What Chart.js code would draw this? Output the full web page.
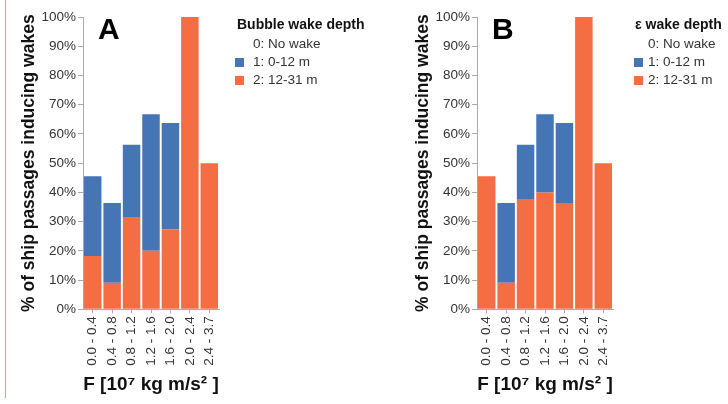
<!DOCTYPE html>
<html>
<head>
<meta charset="utf-8">
<title>Ship wakes</title>
<script src="https://cdn.jsdelivr.net/npm/chart.js@4.4.1/dist/chart.umd.min.js"></script>
<style>
  body { margin: 0; background: #fff; font-family: "Liberation Sans", Arial, sans-serif; }
  #page { position: relative; width: 728px; height: 404px; overflow: hidden; }
  .panel { position: absolute; top: 0; width: 334px; height: 404px; }
  .panel canvas { position: absolute; left: 0; top: 0; }
  .letter { position: absolute; left: 98px; top: 14px; font-size: 30px; font-weight: bold; line-height: 30px; color: #000; }
  .leg-title { position: absolute; font-size: 14px; font-weight: bold; color: #111; height: 16px; line-height: 16px; white-space: nowrap; }
  .leg-item { position: absolute; font-size: 13.5px; color: #333; height: 16px; line-height: 16px; white-space: nowrap; }
  .leg-box { position: absolute; width: 9px; height: 9px; }
  #redline { position: absolute; left: 5px; top: 0; width: 1px; height: 398px; background: #e39393; }
</style>
</head>
<body>
<div id="page">
  <div id="redline"></div>
  <div class="panel" style="left:0px">
    <canvas id="chartA" width="334" height="404"></canvas>
    <div class="letter">A</div>
  </div>
  <div class="panel" style="left:394px">
    <canvas id="chartB" width="334" height="404"></canvas>
    <div class="letter">B</div>
  </div>
</div>
<script>
// bins of F [10^7 kg m/s^2]
const categories = ["0.0 - 0.4", "0.4 - 0.8", "0.8 - 1.2", "1.2 - 1.6", "1.6 - 2.0", "2.0 - 2.4", "2.4 - 3.7"];

// panel A: bubble wake depth (% of ship passages)
const bubbleDeep = [18.2, 9.1, 31.3, 20.0, 27.3, 100, 50];      // 2: 12-31 m
const bubbleShallow = [27.3, 27.3, 25.0, 46.7, 36.4, 0, 0];     // 1: 0-12 m

// panel B: epsilon wake depth
const epsDeep = [45.5, 9.1, 37.5, 40.0, 36.4, 100, 50];         // 2: 12-31 m
const epsShallow = [0, 27.3, 18.8, 26.7, 27.3, 0, 0];           // 1: 0-12 m

const yTicks = [0, 10, 20, 30, 40, 50, 60, 70, 80, 90, 100];
const legendLabels = ["0: No wake", "1: 0-12 m", "2: 12-31 m"];

const BLUE = "#4575b4";
const ORANGE = "#f46d43";
const FONT = "'Liberation Sans', Arial, sans-serif";

function addLegend(panelIdx, title, boxX, titleX, textX) {
  const panel = document.querySelectorAll(".panel")[panelIdx];
  const t = document.createElement("div");
  t.className = "leg-title";
  t.style.left = titleX + "px";
  t.style.top = (24 - 8) + "px";
  t.textContent = title;
  panel.appendChild(t);
  const centers = [44, 62, 80];
  const colors = [null, BLUE, ORANGE];
  legendLabels.forEach((lab, i) => {
    const d = document.createElement("div");
    d.className = "leg-item";
    d.style.left = textX + "px";
    d.style.top = (centers[i] - 8) + "px";
    d.textContent = lab;
    panel.appendChild(d);
    if (colors[i]) {
      const b = document.createElement("div");
      b.className = "leg-box";
      b.style.background = colors[i];
      b.style.left = boxX + "px";
      b.style.top = (centers[i] - 4.5) + "px";
      panel.appendChild(b);
    }
  });
}

function makeChart(id, deep, shallow) {
  const ctx = document.getElementById(id).getContext("2d");
  return new Chart(ctx, {
    type: "bar",
    data: {
      labels: categories,
      datasets: [
        { label: legendLabels[2], data: deep, backgroundColor: ORANGE, borderWidth: 0,
          barPercentage: 0.9, categoryPercentage: 1.0 },
        { label: legendLabels[1], data: shallow, backgroundColor: BLUE, borderWidth: 0,
          barPercentage: 0.9, categoryPercentage: 1.0 }
      ]
    },
    options: {
      responsive: false,
      animation: false,
      layout: { padding: { top: 17, right: 115, left: 0, bottom: 0 } },
      plugins: { legend: { display: false }, tooltip: { enabled: false } },
      scales: {
        x: {
          stacked: true,
          grid: { drawOnChartArea: false, offset: false, tickLength: 4, color: "#aaa" },
          border: { color: "#aaa" },
          ticks: { minRotation: 90, maxRotation: 90, autoSkip: false, padding: 3,
                   color: "#333", font: { family: FONT, size: 13.5 } },
          title: { display: true, text: "F [10\u2077 kg m/s\u00b2 ]", color: "#111",
                   font: { family: FONT, size: 19, weight: "bold" }, padding: { top: 0, bottom: 7.6 } },
          afterFit: (s) => { s.height = 94.7; }
        },
        y: {
          stacked: true,
          min: 0, max: 100,
          afterBuildTicks: (s) => { s.ticks = yTicks.map(v => ({ value: v })); },
          grid: { drawOnChartArea: false, tickLength: 5, color: "#aaa" },
          border: { color: "#aaa" },
          ticks: { padding: 2, color: "#333", font: { family: FONT, size: 13.5 },
                   callback: (v) => v + "%" },
          title: { display: true, text: "% of ship passages inducing wakes", color: "#111",
                   font: { family: FONT, size: 17.5, weight: "bold" }, padding: { top: 18.5, bottom: 0 } },
          afterFit: (s) => { s.width = 83; }
        }
      }
    }
  });
}

makeChart("chartA", bubbleDeep, bubbleShallow);
makeChart("chartB", epsDeep, epsShallow);
addLegend(0, "Bubble wake depth", 235, 237, 253);
addLegend(1, "\u03b5 wake depth", 240, 241, 254);
</script>
</body>
</html>
